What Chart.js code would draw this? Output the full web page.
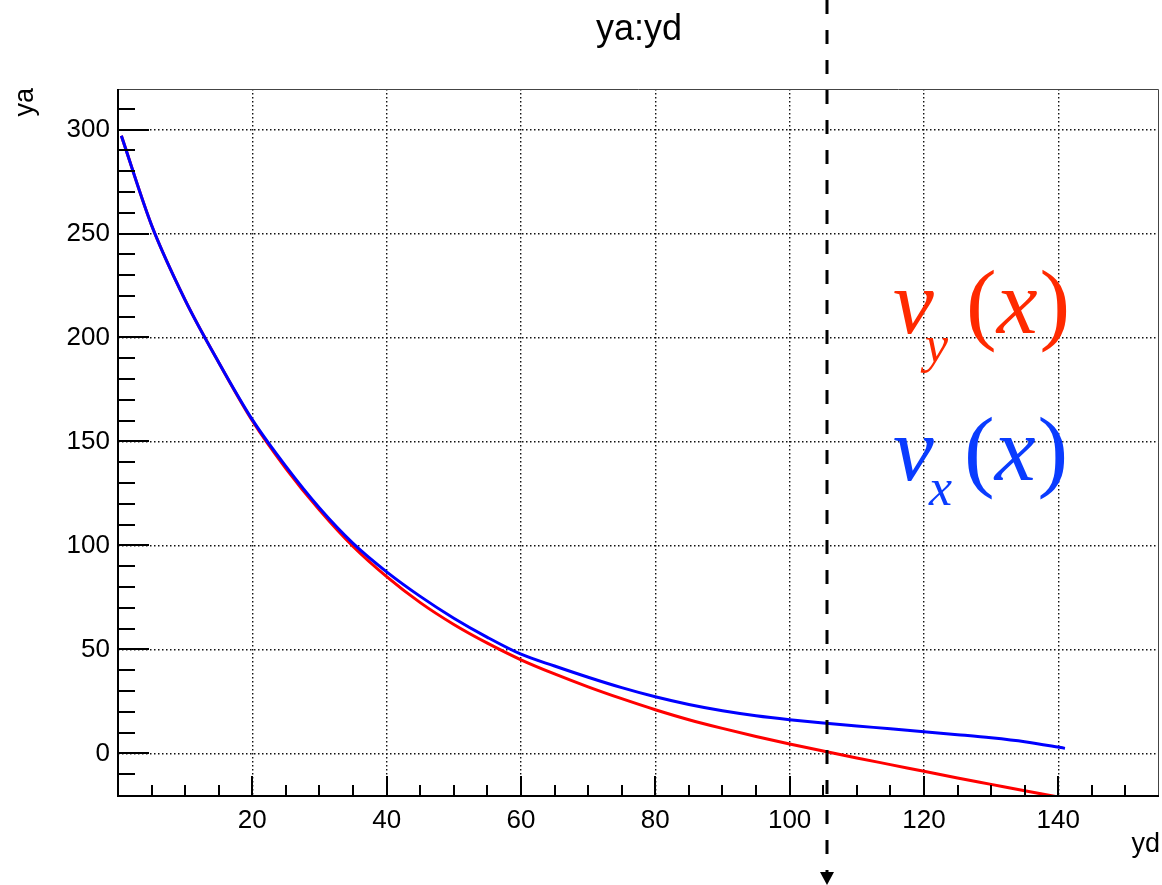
<!DOCTYPE html>
<html>
<head>
<meta charset="utf-8">
<script src="https://cdn.jsdelivr.net/npm/chart.js@4.4.1/dist/chart.umd.min.js"></script>
<style>
  html, body { margin: 0; padding: 0; background: #fff; }
  #wrap { width: 1162px; height: 885px; position: relative; }
</style>
</head>
<body>
<div id="wrap"><canvas id="plot"></canvas></div>
<script>
// values
const yd = [0.5, 5, 10, 15, 20, 25, 30, 35, 40, 45, 50, 55, 60, 65, 70, 75, 80, 85, 90, 95, 100, 105, 110, 115, 120, 125, 130, 135, 141];
const vy = [297, 254, 218, 188, 160, 137, 117, 99.5, 85, 72.5, 62, 53, 45, 38.2, 32, 26.3, 21, 16.2, 12, 8.1, 4.5, 1.1, -2.2, -5.4, -8.6, -11.8, -14.9, -18, -21.6];
const vx = [297, 254, 218, 188, 160.5, 138, 118, 101, 87.3, 75.5, 65, 55.8, 47.7, 42, 36.6, 31.6, 27.2, 23.5, 20.5, 18.1, 16.2, 14.6, 13.2, 11.8, 10.4, 9, 7.5, 5.6, 2.4];
const xTicks = [20, 40, 60, 80, 100, 120, 140];
const yTicks = [0, 50, 100, 150, 200, 250, 300];
const xRange = [0, 155];
const yRange = [-20.5, 319.5];
const cutX = 105.5;

const FONT = 'Liberation Sans';

// ROOT-like frame: inner ticks, title, axis titles, cut line, labels
const rootFrame = {
  id: 'rootFrame',
  afterDraw(chart) {
    const {ctx, chartArea: a, scales: {x, y}} = chart;
    ctx.save();

    // thin top/right border
    ctx.strokeStyle = '#444';
    ctx.lineWidth = 1;
    ctx.beginPath();
    ctx.moveTo(a.left, a.top + 0.5);
    ctx.lineTo(a.right - 0.5, a.top + 0.5);
    ctx.lineTo(a.right - 0.5, a.bottom);
    ctx.stroke();

    // axes
    ctx.strokeStyle = '#000';
    ctx.lineWidth = 2;
    ctx.beginPath();
    ctx.moveTo(a.left, a.top);
    ctx.lineTo(a.left, a.bottom);
    ctx.lineTo(a.right, a.bottom);
    ctx.stroke();

    // x ticks (inside)
    ctx.beginPath();
    for (let v = 5; v < xRange[1]; v += 5) {
      const px = Math.round(x.getPixelForValue(v));
      const len = v % 20 === 0 ? 20 : 11;
      ctx.moveTo(px, a.bottom);
      ctx.lineTo(px, a.bottom - len);
    }
    // y ticks (inside)
    for (let v = -10; v < yRange[1]; v += 10) {
      const py = Math.round(y.getPixelForValue(v));
      const len = v % 50 === 0 ? 31 : 17;
      ctx.moveTo(a.left, py);
      ctx.lineTo(a.left + len, py);
    }
    ctx.stroke();

    // title
    ctx.fillStyle = '#000';
    ctx.font = '36px "' + FONT + '"';
    ctx.textAlign = 'center';
    ctx.textBaseline = 'alphabetic';
    ctx.fillText('ya:yd', 639, 40);

    // axis titles
    ctx.font = '27px "' + FONT + '"';
    ctx.textAlign = 'right';
    ctx.fillText('yd', 1160, 852);
    ctx.save();
    ctx.translate(33, 88);
    ctx.rotate(-Math.PI / 2);
    ctx.textAlign = 'right';
    ctx.fillText('ya', 0, 0);
    ctx.restore();

    // dashed cut line with arrow
    const cx = Math.round(x.getPixelForValue(cutX));
    ctx.strokeStyle = '#000';
    ctx.lineWidth = 3;
    ctx.setLineDash([14, 16]);
    ctx.beginPath();
    ctx.moveTo(cx, 0);
    ctx.lineTo(cx, 872);
    ctx.stroke();
    ctx.setLineDash([]);
    ctx.beginPath();
    ctx.moveTo(cx - 7, 872);
    ctx.lineTo(cx + 7, 872);
    ctx.lineTo(cx, 885);
    ctx.closePath();
    ctx.fill();

    // curve labels: italic v, subscript, upright parens round italic x
    const big = 'italic 92px "Liberation Serif"';
    const bigUp = '92px "Liberation Serif"';
    const sub = 'italic 52px "Liberation Serif"';
    const label = (color, subText, x0, base, subX, subBase, parX) => {
      ctx.fillStyle = color;
      ctx.font = big; ctx.fillText('v', x0, base);
      ctx.font = sub; ctx.fillText(subText, subX, subBase);
      let px = parX;
      ctx.font = bigUp; ctx.fillText('(', px, base);
      px += ctx.measureText('(').width;
      ctx.font = big; ctx.fillText('x', px, base);
      px += ctx.measureText('x').width + 2;
      ctx.font = bigUp; ctx.fillText(')', px, base);
    };
    ctx.textAlign = 'left';
    label('#ff2a00', 'y', 893, 333, 925, 362, 966);
    label('#0a3cff', 'x', 893, 480, 929, 505, 964);

    ctx.restore();
  }
};

const gridOpts = { color: '#111', lineWidth: 1.4, drawTicks: false };
const borderOpts = { display: false, dash: [1.5, 2.5] };

new Chart('plot', {
  type: 'line',
  data: {
    datasets: [{
      label: 'vy',
      data: yd.map((v, i) => ({x: v, y: vy[i]})),
      borderColor: '#ff0000',
      borderWidth: 3,
      pointRadius: 0,
      cubicInterpolationMode: 'monotone',
      order: 1
    },
    {
      label: 'vx',
      data: yd.map((v, i) => ({x: v, y: vx[i]})),
      borderColor: '#0000ff',
      borderWidth: 3,
      pointRadius: 0,
      cubicInterpolationMode: 'monotone',
      order: 0
    }]
  },
  options: {
    responsive: true,
    maintainAspectRatio: false,
    animation: false,
    layout: { padding: { top: 89, right: 3, left: 0, bottom: 0 } },
    plugins: {
      legend: { display: false },
      tooltip: { enabled: false },
      title: { display: false }
    },
    scales: {
      x: {
        type: 'linear',
        min: xRange[0],
        max: xRange[1],
        grid: gridOpts,
        border: borderOpts,
        afterBuildTicks: s => { s.ticks = xTicks.map(v => ({value: v})); },
        afterFit: s => { s.height = 89; },
        ticks: {
          color: '#000',
          padding: 9,
          maxRotation: 0,
          font: { family: FONT, size: 26 },
          callback: v => String(v)
        }
      },
      y: {
        type: 'linear',
        min: yRange[0],
        max: yRange[1],
        grid: gridOpts,
        border: borderOpts,
        afterBuildTicks: s => { s.ticks = yTicks.map(v => ({value: v})); },
        afterFit: s => { s.width = 118; },
        ticks: {
          color: '#000',
          padding: 8,
          font: { family: FONT, size: 26 },
          callback: v => String(v)
        }
      }
    }
  },
  plugins: [rootFrame]
});
</script>
</body>
</html>
